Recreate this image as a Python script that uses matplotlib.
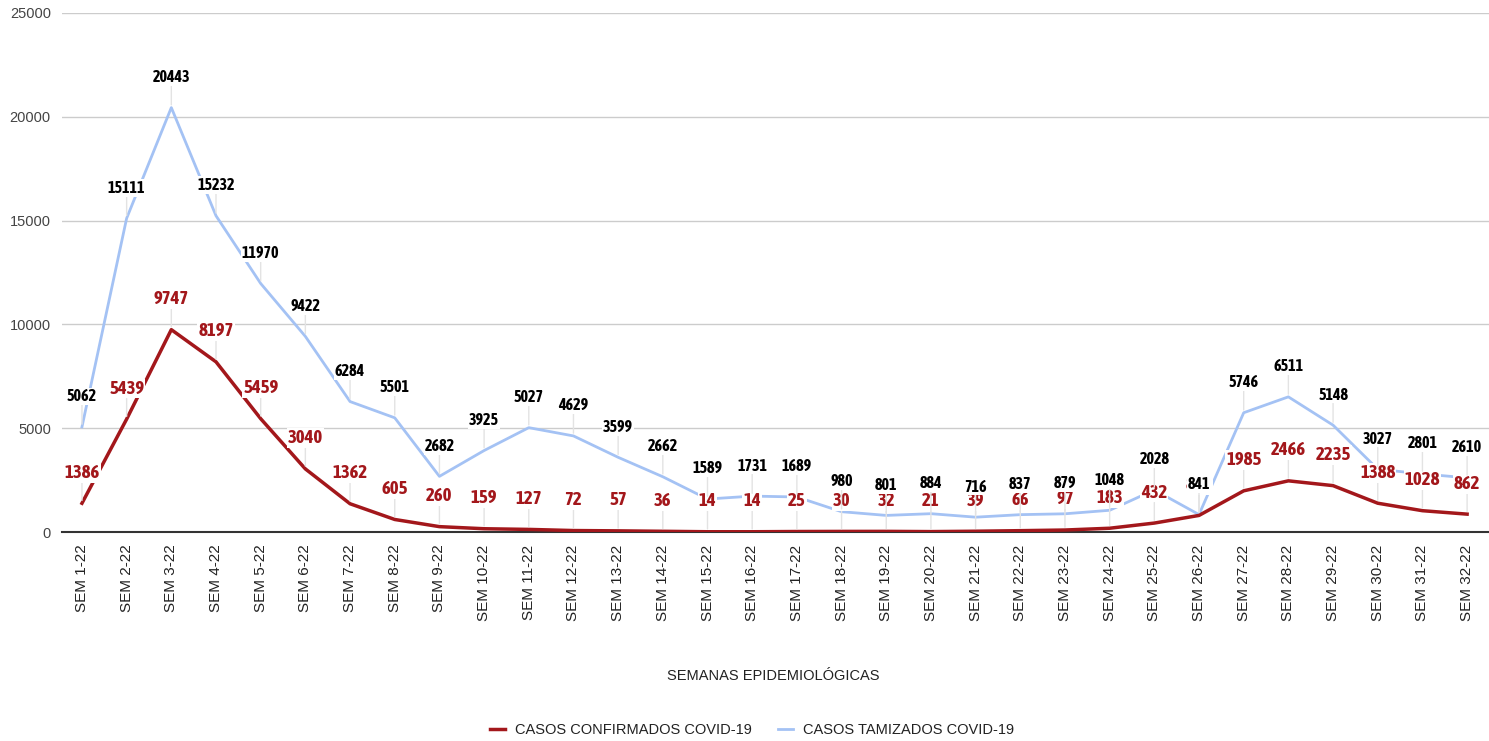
import matplotlib.pyplot as plt
import numpy as np

# semanas epidemiologicas 2022
semanas = ["SEM %d-22" % i for i in range(1, 33)]

tamizados = [5062, 15111, 20443, 15232, 11970, 9422, 6284, 5501, 2682, 3925,
             5027, 4629, 3599, 2662, 1589, 1731, 1689, 980, 801, 884,
             716, 837, 879, 1048, 2028, 841, 5746, 6511, 5148, 3027,
             2801, 2610]

confirmados = [1386, 5439, 9747, 8197, 5459, 3040, 1362, 605, 260, 159,
               127, 72, 57, 36, 14, 14, 25, 30, 32, 21,
               39, 66, 97, 183, 432, 800, 1985, 2466, 2235, 1388,
               1028, 862]

RED = "#a3171b"
BLUE = "#a4c2f4"
TXT = ["Liberation Sans", "DejaVu Sans"]
NARROW = ["Asap Condensed", "DejaVu Sans"]

plt.rcParams["font.family"] = TXT

fig = plt.figure(figsize=(14.89, 7.41), dpi=100)
ax = fig.add_axes([0.0416, 0.282, 0.9584, 0.7005])

x = np.arange(len(semanas))
ax.plot(x, tamizados, color=BLUE, lw=2, zorder=3, label="CASOS TAMIZADOS COVID-19")
ax.plot(x, confirmados, color=RED, lw=2.5, zorder=3, label="CASOS CONFIRMADOS COVID-19")

# etiquetas de datos con linea guia
def labels(vals, color, size):
    for xi, v in zip(x, vals):
        ax.annotate(str(v), (xi, v), xytext=(0, 22), textcoords="offset points",
                    ha="center", va="center", color=color, fontsize=size,
                    fontweight="bold", family=NARROW, zorder=5,
                    bbox=dict(boxstyle="square,pad=0.05", fc="white", ec="none"),
                    arrowprops=dict(arrowstyle="-", color="#e3e3e3", lw=1,
                                    shrinkA=0, shrinkB=2))

labels(confirmados, RED, 13.5)
labels(tamizados, "black", 11.5)

ax.set_xlim(-0.448, 31.49)
ax.set_ylim(0, 25000)
ax.set_yticks(np.arange(0, 25001, 5000))
ax.set_xticks(x)
ax.set_xticklabels(semanas, rotation=90, fontsize=11, color="#222222")
ax.tick_params(axis="y", labelsize=10.5, labelcolor="#444444", length=0, pad=8)
ax.tick_params(axis="x", length=0, pad=9)
ax.grid(axis="y", color="#cccccc", lw=1)
ax.set_axisbelow(True)
for s in ["top", "right", "left"]:
    ax.spines[s].set_visible(False)
ax.spines["bottom"].set_color("#333333")
ax.spines["bottom"].set_linewidth(1.5)

fig.text(0.519, 0.088, "SEMANAS EPIDEMIOLÓGICAS", ha="center", va="center",
         fontsize=10.5, color="#222222")

h, l = ax.get_legend_handles_labels()
fig.legend([h[1], h[0]], [l[1], l[0]], loc="center", bbox_to_anchor=(0.505, 0.015),
           ncol=2, frameon=False, fontsize=10.5, handlelength=1.0,
           columnspacing=1.8, handletextpad=0.7, labelcolor="#222222")

fig.savefig("out.png", dpi=100)
